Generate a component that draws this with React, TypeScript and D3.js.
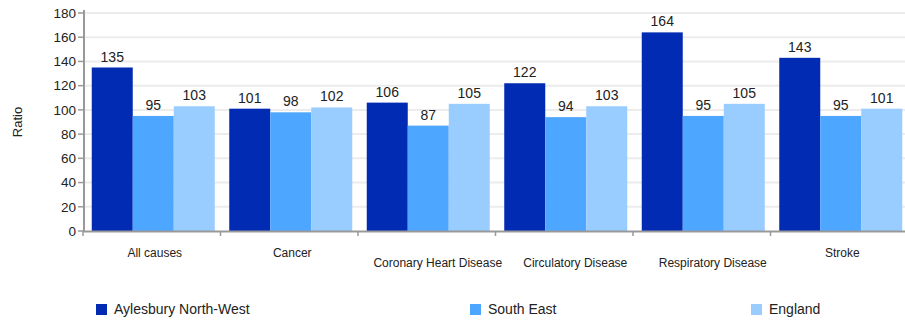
import React from "react";
import * as d3 from "d3";

const categories = ["All causes", "Cancer", "Coronary Heart Disease", "Circulatory Disease", "Respiratory Disease", "Stroke"];
const seriesNames = ["Aylesbury North-West", "South East", "England"];
const aylesbury = [135, 101, 106, 122, 164, 143];
const southEast = [95, 98, 87, 94, 95, 95];
const england = [103, 102, 105, 103, 105, 101];
const yTicks = [0, 20, 40, 60, 80, 100, 120, 140, 160, 180];
const colors = ["#002BB2", "#4DA6FF", "#99CCFF"];

const W = 905, H = 322;
const font = "Arial, 'Liberation Sans', sans-serif";

export default function App() {
  const series = [aylesbury, southEast, england];
  const y = d3.scaleLinear().domain([0, 180]).range([231, 13]);
  const x0 = d3.scaleBand<string>().domain(categories).range([83, 908]).padding(0);
  const groupW = 123;
  const x1 = d3.scaleBand<string>().domain(seriesNames).range([0, groupW]).padding(0);
  const off = (x0.bandwidth() - groupW) / 2 + 1.5;
  const boundaries = categories.map((c) => x0(c)!).concat([x0.range()[1]]);
  const legendX = [96, 470, 751];

  return (
    <svg width={W} height={H} style={{ position: "absolute", left: 0, top: 0, fontFamily: font }}>
      <rect width={W} height={H} fill="#fff" />
      {yTicks.map((t) => (
        <g key={t}>
          {t > 0 && <line x1={84} x2={W} y1={y(t)} y2={y(t)} stroke="#ececec" strokeWidth={2} />}
          <line x1={78} x2={84} y1={y(t)} y2={y(t)} stroke="#999" strokeWidth={1.5} />
          <text x={76} y={y(t)} dy="0.35em" textAnchor="end" fontSize={13.5} fill="#222">{t}</text>
        </g>
      ))}
      <text transform={`translate(22,${y(90)}) rotate(-90)`} textAnchor="middle" fontSize={13} fill="#222">Ratio</text>
      {categories.map((c, i) => (
        <g key={c} transform={`translate(${x0(c)! + off},0)`}>
          {series.map((s, j) => (
            <g key={j}>
              <rect x={x1(seriesNames[j])!} y={y(s[i])} width={x1.bandwidth()} height={y(0) - y(s[i])} fill={colors[j]} />
              <text x={x1(seriesNames[j])! + x1.bandwidth() / 2} y={y(s[i]) - 6} textAnchor="middle" fontSize={14} fill="#222">{s[i]}</text>
            </g>
          ))}
        </g>
      ))}
      <line x1={84} x2={84} y1={10} y2={232} stroke="#999" strokeWidth={2} />
      <line x1={83} x2={W} y1={231.5} y2={231.5} stroke="#999" strokeWidth={2} />
      {boundaries.map((b, i) => (
        <line key={i} x1={b} x2={b} y1={231} y2={236} stroke="#999" strokeWidth={1.5} />
      ))}
      {categories.map((c) => {
        const long = c.length > 12;
        return (
          <text key={c} x={x0(c)! + x0.bandwidth() / 2 + (long ? 11 : 3)} y={long ? 267 : 257} textAnchor="middle" fontSize={12} fill="#222">{c}</text>
        );
      })}
      {seriesNames.map((n, j) => (
        <g key={n}>
          <rect x={legendX[j]} y={304} width={11} height={11} fill={colors[j]} />
          <text x={legendX[j] + 18} y={314} fontSize={14} fill="#222">{n}</text>
        </g>
      ))}
    </svg>
  );
}
